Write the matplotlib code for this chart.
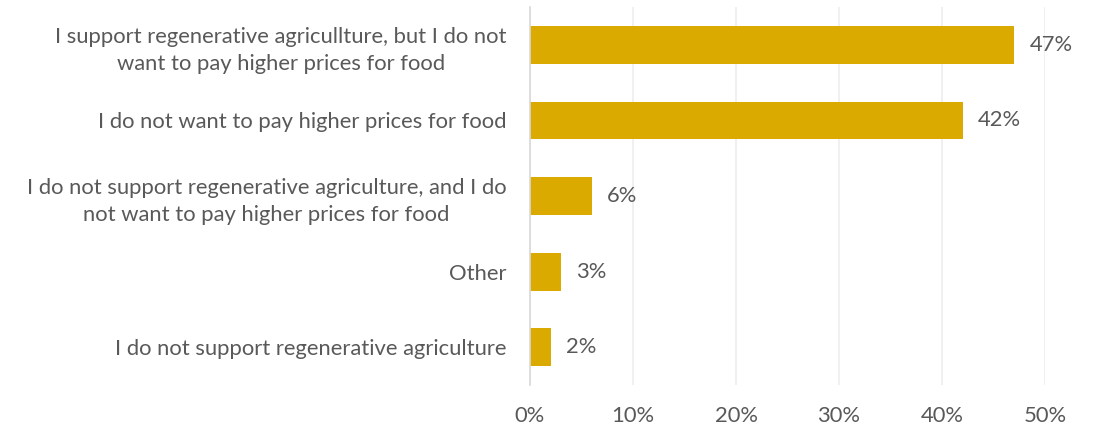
import matplotlib
matplotlib.use("Agg")
import matplotlib.pyplot as plt
from matplotlib.ticker import FuncFormatter

# survey answers, top to bottom
categories = [
    "I support regenerative agricullture, but I do not\nwant to pay higher prices for food",
    "I do not want to pay higher prices for food",
    "I do not support regenerative agriculture, and I do\nnot want to pay higher prices for food",
    "Other",
    "I do not support regenerative agriculture",
]
shares = [47, 42, 6, 3, 2]
ticks = [0, 10, 20, 30, 40, 50]

BAR = "#DAAA00"
TEXT = "#595959"
FS = 15.8

plt.rcParams["font.family"] = ["Lato", "DejaVu Sans"]

fig = plt.figure(figsize=(10.93, 4.25), dpi=100)
ax = fig.add_axes([0.4849, 0.0941, 0.4712, 0.8894])

pos = list(range(len(categories)))
ax.barh(pos, shares, height=0.5, color=BAR, zorder=3)
ax.set_ylim(len(categories) - 0.5, -0.5)
ax.set_xlim(0, 50)

for y, v in zip(pos, shares):
    ax.annotate(f"{v}%", (v, y), xytext=(11, 0), textcoords="offset points",
                ha="left", va="center", fontsize=FS, color=TEXT)

ax.set_yticks(pos)
ax.set_yticklabels(categories, fontsize=FS, color=TEXT,
                   multialignment="center", linespacing=1.45)
ax.set_xticks(ticks)
ax.xaxis.set_major_formatter(FuncFormatter(lambda x, _: f"{x:.0f}%"))
ax.tick_params(axis="x", labelsize=FS, labelcolor=TEXT, length=0, pad=15)
ax.tick_params(axis="y", length=0, pad=17)

ax.grid(axis="x", color="#EDEDED", linewidth=1.2, zorder=0)
for side in ("top", "right", "bottom"):
    ax.spines[side].set_visible(False)
ax.spines["left"].set_color("#D9D9D9")
ax.spines["left"].set_linewidth(1.2)
ax.spines["left"].set_zorder(4)

fig.savefig("out.png", dpi=100)
